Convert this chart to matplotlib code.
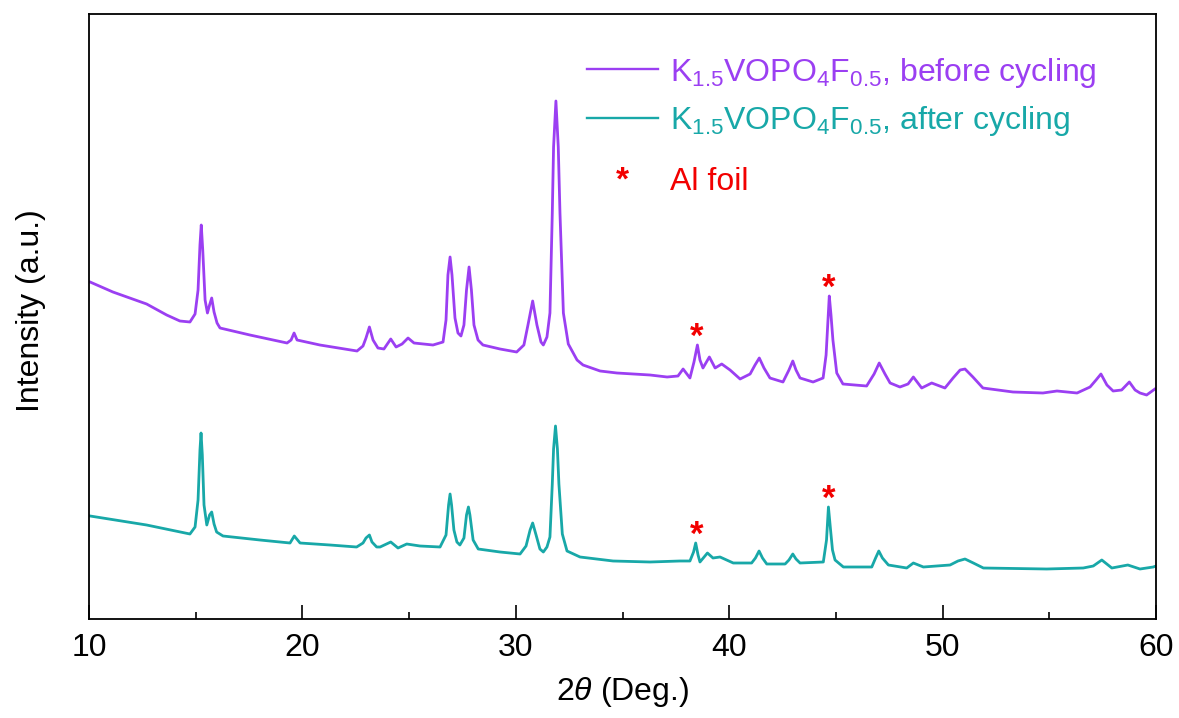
import numpy as np
import matplotlib
matplotlib.use("Agg")
import matplotlib.pyplot as plt
from matplotlib.lines import Line2D

# ---------------- data ----------------
before_2theta = [10.05, 11.12, 12.70, 13.64, 14.26, 14.73, 14.97, 15.11, 15.20, 15.26, 15.33, 15.44,
                 15.55, 15.65, 15.75, 15.86, 16.00, 16.14, 17.54, 19.28, 19.47, 19.61, 19.75, 20.82,
                 22.56, 22.84, 22.98, 23.14, 23.31, 23.54, 23.82, 24.14, 24.39, 24.67, 24.95, 25.23,
                 26.12, 26.59, 26.73, 26.82, 26.92, 27.01, 27.15, 27.29, 27.43, 27.57, 27.69, 27.81,
                 27.92, 28.04, 28.23, 28.46, 29.26, 30.04, 30.38, 30.57, 30.79, 30.99, 31.18, 31.29,
                 31.46, 31.60, 31.71, 31.77, 31.88, 31.99, 32.07, 32.23, 32.46, 32.87, 33.15, 33.95,
                 34.74, 35.49, 36.29, 37.09, 37.60, 37.84, 38.16, 38.35, 38.51, 38.63, 38.77, 39.07,
                 39.34, 39.65, 40.04, 40.51, 40.98, 41.21, 41.41, 41.63, 41.91, 42.52, 42.80, 42.98,
                 43.13, 43.32, 43.93, 44.40, 44.54, 44.69, 44.77, 44.86, 45.04, 45.33, 46.44, 46.79,
                 47.03, 47.30, 47.54, 48.00, 48.38, 48.63, 49.02, 49.49, 50.11, 50.49, 50.82, 51.05,
                 51.42, 51.89, 53.30, 54.70, 55.36, 56.30, 56.91, 57.19, 57.42, 57.70, 57.99, 58.39,
                 58.75, 59.02, 59.25, 59.56, 59.95]
before_intensity = [337, 327, 315, 304, 298, 297, 305, 329, 374, 394, 369, 319,
                    306, 314, 321, 307, 296, 291, 284, 276, 279, 286, 279, 274,
                    268, 273, 281, 292, 279, 271, 270, 280, 272, 275, 281, 276,
                    274, 277, 299, 344, 362, 344, 301, 286, 283, 294, 329, 352,
                    329, 294, 279, 274, 270, 267, 274, 294, 318, 294, 277, 274,
                    282, 306, 406, 472, 518, 472, 406, 306, 275, 259, 254, 248,
                    246, 245, 244, 242, 243, 250, 241, 257, 274, 259, 251, 262,
                    251, 255, 249, 240, 245, 254, 261, 251, 241, 237, 249, 258,
                    249, 241, 237, 241, 264, 323, 304, 279, 246, 235, 233, 245,
                    256, 245, 236, 232, 235, 242, 231, 236, 231, 241, 249, 250,
                    242, 231, 227, 226, 228, 226, 232, 239, 245, 234, 228, 229,
                    237, 229, 226, 224, 230]

after_2theta = [10.05, 12.70, 14.73, 14.97, 15.11, 15.20, 15.25, 15.31, 15.39, 15.52, 15.65, 15.75,
                15.86, 15.98, 16.28, 18.01, 19.42, 19.62, 19.89, 21.29, 22.54, 22.84, 22.98, 23.14,
                23.26, 23.48, 23.64, 24.14, 24.48, 24.89, 25.51, 26.45, 26.73, 26.85, 26.92, 26.99,
                27.10, 27.24, 27.38, 27.57, 27.69, 27.78, 27.85, 28.00, 28.24, 29.26, 30.20, 30.48,
                30.67, 30.79, 30.95, 31.13, 31.29, 31.46, 31.60, 31.71, 31.77, 31.86, 31.95, 32.02,
                32.18, 32.40, 33.01, 34.56, 36.29, 37.69, 38.16, 38.33, 38.43, 38.54, 38.63, 38.98,
                39.24, 39.57, 40.19, 41.05, 41.23, 41.40, 41.56, 41.76, 42.62, 42.80, 42.98, 43.13,
                43.32, 44.41, 44.56, 44.65, 44.75, 44.84, 44.96, 45.35, 46.68, 46.86, 47.01, 47.18,
                47.46, 48.32, 48.63, 49.10, 49.72, 50.35, 50.72, 51.05, 51.44, 51.91, 54.88, 56.59,
                57.06, 57.46, 57.93, 58.68, 59.25, 59.87, 60.00]
after_intensity = [103, 94, 85, 92, 119, 169, 186, 164, 114, 94, 104, 107,
                   95, 87, 83, 79, 76, 83, 76, 74, 72, 76, 81, 84,
                   77, 72, 72, 77, 71, 75, 73, 72, 84, 114, 125, 114,
                   89, 77, 74, 81, 104, 112, 104, 79, 70, 67, 65, 73,
                   89, 96, 84, 70, 67, 72, 82, 135, 170, 193, 170, 135,
                   85, 68, 62, 58, 57, 58, 58, 67, 76, 64, 57, 66,
                   61, 62, 56, 56, 61, 68, 61, 55, 55, 59, 65, 60,
                   56, 57, 79, 112, 89, 69, 59, 52, 52, 61, 68, 61,
                   54, 51, 56, 52, 53, 54, 58, 60, 56, 51, 50, 51,
                   53, 59, 51, 54, 50, 52, 53]

al_foil_peaks = [38.47, 44.67]

labels = ["K$_{1.5}$VOPO$_4$F$_{0.5}$, before cycling",
          "K$_{1.5}$VOPO$_4$F$_{0.5}$, after cycling",
          "Al foil"]
x_ticks = [10, 20, 30, 40, 50, 60]

# ---------------- style ----------------
PURPLE = "#9B3FF2"
TEAL = "#18A8A8"
RED = "#F20000"

plt.rcParams["font.family"] = ["Liberation Sans", "DejaVu Sans"]
plt.rcParams["mathtext.fontset"] = "custom"
plt.rcParams["mathtext.rm"] = "Liberation Sans"
plt.rcParams["mathtext.it"] = "Liberation Sans:italic"
plt.rcParams["mathtext.bf"] = "Liberation Sans:bold"

FS = 23

fig = plt.figure(figsize=(11.79, 7.18), dpi=100)
ax = fig.add_axes([89 / 1179, 99 / 718, 1067 / 1179, 605 / 718])

ax.plot(before_2theta, before_intensity, color=PURPLE, lw=2.0, solid_joinstyle="round")
ax.plot(after_2theta, after_intensity, color=TEAL, lw=2.0, solid_joinstyle="round")

# Al foil asterisks above the peaks
for series_x, series_y in ((before_2theta, before_intensity), (after_2theta, after_intensity)):
    sx = np.asarray(series_x)
    sy = np.asarray(series_y)
    for p in al_foil_peaks:
        m = np.abs(sx - p) < 0.2
        ytop = sy[m].max()
        ax.annotate("*", xy=(p, ytop), xytext=(0, -1.0), textcoords="offset points",
                    ha="center", va="baseline", color=RED, fontsize=25, fontweight="bold")

ax.set_xlim(10, 60)
ax.set_ylim(0, 605)
ax.set_xticks(x_ticks)
ax.set_xticks([15, 25, 35, 45, 55], minor=True)
ax.set_yticks([])
ax.tick_params(axis="x", which="major", direction="in", length=10, width=1.2,
               labelsize=FS, pad=10, top=False)
ax.tick_params(axis="x", which="minor", direction="in", length=5, width=1.2, top=False)
for s in ax.spines.values():
    s.set_linewidth(1.3)

ax.set_xlabel("2$\\theta$ (Deg.)", fontsize=FS)
ax.xaxis.set_label_coords(0.5, -0.092)
ax.set_ylabel("Intensity (a.u.)", fontsize=FS)
ax.yaxis.set_label_coords(-0.04, 0.51)

# legend (manual)
T = ax.transAxes
lx0, lx1 = (586.5 - 89) / 1067, (658 - 89) / 1067
tx = (670 - 89) / 1067
rows_y = [(619 - 69.3) / 605, (619 - 117.6) / 605]
for yy, col, lab in zip(rows_y, [PURPLE, TEAL], labels[:2]):
    ax.add_line(Line2D([lx0, lx1], [yy, yy], transform=T, color=col, lw=1.7))
    ax.text(tx, yy - 11.5 / 605, lab, transform=T, color=col, fontsize=FS,
            ha="left", va="baseline")
ax.text((lx0 + lx1) / 2, (619 - 190) / 605, "*", transform=T, color=RED, fontsize=24,
        fontweight="bold", ha="center", va="baseline")
ax.text(tx, (619 - 190) / 605, labels[2], transform=T, color=RED, fontsize=FS,
        ha="left", va="baseline")

fig.savefig("out.png", dpi=100)
